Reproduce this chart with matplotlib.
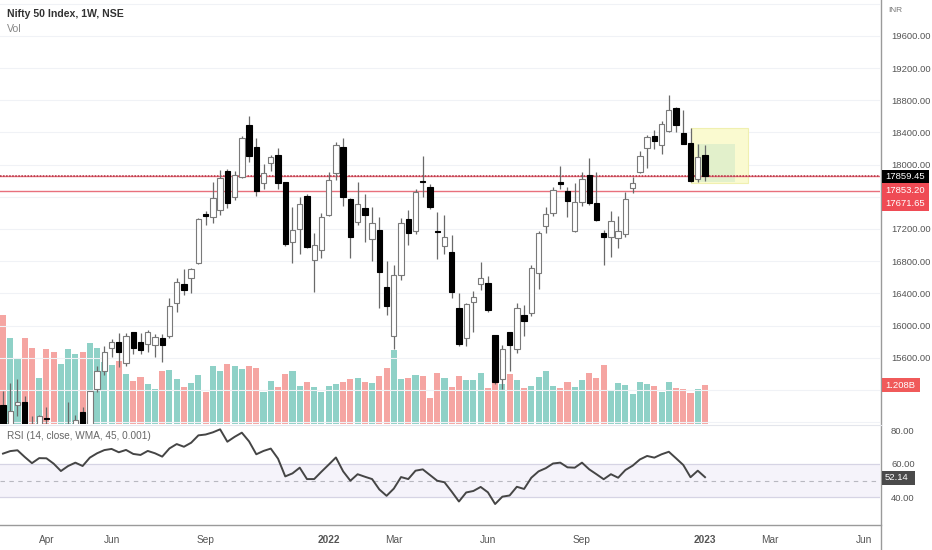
import matplotlib
matplotlib.use('Agg')
import matplotlib.pyplot as plt
from matplotlib.patches import Rectangle
from matplotlib.lines import Line2D

plt.rcParams['font.family'] = ['Liberation Sans', 'DejaVu Sans']

# weekly candles, Feb 22 2021 .. Jan 2 2023 (index 0..97)
opens = [15010, 14700, 15010, 15050, 14740, 14630, 14850, 14640, 14300, 14450,
         14480, 14925, 14760, 15210, 15435, 15723, 15789, 15529, 15916, 15792,
         15772, 15752, 15847, 15867, 16280, 16516, 16593, 16779, 17382, 17345,
         17435, 17918, 17600, 17847, 18488, 18219, 17773, 18021, 18125, 17786,
         17043, 17196, 17612, 16816, 16940, 17373, 17897, 18219, 17572, 17290,
         17458, 17073, 17188, 16473, 15867, 16631, 17320, 17175, 17795, 17724,
         17175, 16994, 16912, 16218, 15846, 16288, 16519, 16530, 15879, 15339,
         15921, 15710, 16127, 16157, 16659, 17237, 17394, 17778, 17674, 17179,
         17538, 17868, 17526, 17147, 17097, 17085, 17134, 17711, 17902, 18201,
         18357, 18242, 18419, 18709, 18392, 18273, 17816, 18116]
highs = [15180, 15290, 15340, 15120, 14880, 14890, 14985, 14700, 14670, 15045,
         14890, 14985, 15190, 15495, 15740, 15838, 15912, 15912, 15920, 15912,
         15950, 15900, 15900, 16346, 16593, 16705, 16720, 17340, 17423, 17785,
         17930, 17943, 17918, 18350, 18599, 18327, 18005, 18116, 18203, 17790,
         17476, 17602, 17630, 17146, 17394, 17909, 18283, 18335, 17590, 17786,
         17630, 17476, 17345, 16804, 16754, 17332, 17435, 17700, 18104, 17757,
         17406, 17373, 17126, 16404, 16280, 16424, 16795, 16610, 15879, 15752,
         15925, 16280, 16259, 16754, 17170, 17476, 17720, 17982, 17724, 17773,
         17909, 18083, 17909, 17188, 17427, 17361, 17662, 17847, 18166, 18370,
         18426, 18540, 18871, 18720, 18675, 18461, 18252, 18248]
lows = [14470, 14640, 14870, 14350, 14350, 14590, 14460, 14150, 14150, 14420,
        14420, 14590, 14700, 15170, 15390, 15603, 15479, 15500, 15640, 15640,
        15665, 15603, 15541, 15851, 16164, 16383, 16408, 16765, 17250, 17274,
        17373, 17460, 17559, 17839, 18033, 17608, 17695, 17918, 17695, 16989,
        16783, 16890, 16960, 16411, 16841, 17360, 17807, 17485, 16837, 17250,
        17043, 16808, 16218, 16135, 15702, 16569, 17002, 17140, 17600, 17443,
        16825, 16887, 16342, 15743, 15740, 15916, 16445, 16164, 15269, 15207,
        15429, 15661, 15867, 16123, 16453, 17154, 17360, 17700, 17345, 17160,
        17490, 17497, 17299, 16754, 16857, 16961, 17100, 17642, 17895, 17960,
        18199, 18129, 18400, 18407, 18252, 17786, 17786, 17795]
closes = [14530, 14940, 15050, 14740, 14510, 14870, 14835, 14620, 14340, 14630,
          14820, 14680, 15180, 15435, 15673, 15792, 15677, 15867, 15723, 15690,
          15921, 15854, 15764, 16247, 16535, 16445, 16705, 17324, 17361, 17584,
          17835, 17526, 17868, 18330, 18104, 17671.65, 17900, 18091, 17766, 17014,
          17188, 17506, 16981, 17002, 17345, 17807, 18248, 17600, 17097, 17509,
          17373, 17270, 16660, 16247, 16622, 17278, 17147, 17662, 17786, 17469,
          17167, 17097, 16412, 15776, 16271, 16350, 16590, 16199, 15302, 15702,
          15752, 16218, 16052, 16721, 17154, 17382, 17683, 17753, 17547, 17530,
          17819, 17518, 17311, 17097, 17303, 17175, 17571, 17773, 18104, 18345,
          18290, 18502, 18684, 18490, 18252, 17798, 18096, 17859.45]

# volume in billions
volumes = [3.38, 2.66, 2.04, 2.66, 2.35, 1.42, 2.32, 2.23, 1.86, 2.32,
           2.17, 2.23, 2.51, 2.35, 1.92, 1.83, 1.95, 1.55, 1.33, 1.46,
           1.24, 1.08, 1.64, 1.67, 1.39, 1.15, 1.27, 1.52, 0.99, 1.80,
           1.64, 1.86, 1.80, 1.70, 1.80, 1.73, 0.99, 1.33, 1.15, 1.55,
           1.64, 1.18, 1.30, 1.15, 0.99, 1.18, 1.24, 1.30, 1.39, 1.42,
           1.30, 1.27, 1.49, 1.73, 2.29, 1.39, 1.42, 1.52, 1.49, 0.81,
           1.58, 1.42, 1.15, 1.49, 1.36, 1.36, 1.58, 1.11, 1.27, 1.24,
           1.55, 1.36, 1.11, 1.18, 1.46, 1.64, 1.18, 1.11, 1.30, 1.15,
           1.36, 1.58, 1.42, 1.83, 1.02, 1.27, 1.21, 0.93, 1.30, 1.24,
           1.18, 0.99, 1.30, 1.11, 1.08, 0.96, 1.08, 1.208]

rsi = [66.2, 67.7, 68.2, 64.2, 60.5, 63.5, 63.4, 60.2, 55.8, 58.8,
       60.8, 58.8, 63.8, 66.4, 68.3, 69.0, 67.0, 68.4, 66.0, 65.4,
       67.8, 66.4, 64.4, 69.3, 71.9, 70.3, 72.7, 77.1, 77.6, 78.9,
       80.7, 73.3, 76.2, 78.7, 73.5, 65.8, 67.8, 69.2, 63.2, 52.6,
       54.4, 57.8, 51.0, 51.0, 55.4, 59.6, 63.9, 55.6, 50.0, 53.9,
       52.4, 51.0, 44.8, 41.0, 45.3, 52.2, 51.0, 56.0, 56.8, 53.4,
       50.0, 49.1, 43.5, 37.6, 43.0, 43.9, 46.3, 43.1, 36.1, 40.5,
       41.2, 46.4, 45.1, 51.8, 55.6, 57.5, 60.3, 60.8, 58.0, 57.8,
       60.8, 56.8, 53.9, 50.9, 53.9, 51.8, 56.4, 59.0, 62.7, 64.8,
       63.8, 65.8, 67.3, 63.4, 59.4, 52.1, 56.0, 52.14]

time_tick_pos = [6, 15, 28, 45, 54, 67, 80, 97, 106, 119]
time_tick_labels = ['Apr', 'Jun', 'Sep', '2022', 'Mar', 'Jun', 'Sep', '2023', 'Mar', 'Jun']
# 15200 and 17600 sit under the value tags
price_ticks = [15600, 16000, 16400, 16800, 17200, 18000, 18400, 18800, 19200, 19600]
grid_levels = list(range(14800, 20400, 400))
rsi_ticks = [40, 60, 80]

last_close = 17859.45
hlines = [17853.20, 17671.65]
# drawn boxes: [x0, x1, p_low, p_high]
yellow_box = [95.0, 103.0, 17773, 18459]
green_box = [95.9, 101.1, 17786, 18262]

W, H = 932, 550
def fx(px):
    return px / W
def fy(py):
    return 1 - py / H

fig = plt.figure(figsize=(9.32, 5.5), dpi=100)
fig.patch.set_facecolor('white')

xl = (-0.4145, 121.18)

vax = fig.add_axes([0, fy(424), fx(880), 424 / H])
ax = fig.add_axes([0, fy(424), fx(880), 424 / H], sharex=vax)
rax = fig.add_axes([0, fy(525), fx(880), 100 / H], sharex=vax)
vax.set_zorder(1)
ax.set_zorder(2)
ax.patch.set_visible(False)

idx = list(range(len(closes)))

# volume
vcols = ['#8fd1c7' if c >= o else '#f5a5a2' for o, c in zip(opens, closes)]
vax.bar(idx, volumes, width=0.84, color=vcols, linewidth=0)
vax.set_ylim(0, 13.13)
vax.axis('off')

# price pane
ax.set_xlim(*xl)
ax.set_ylim(14776, 20046)
for p in grid_levels:
    ax.axhline(p, color='#f0f2f6', lw=0.8, zorder=0)

ax.add_patch(Rectangle((yellow_box[0], yellow_box[2]), yellow_box[1] - yellow_box[0],
                       yellow_box[3] - yellow_box[2], fc='#fafad0', ec='#f0f0b0', lw=0.8, zorder=1))
ax.add_patch(Rectangle((green_box[0], green_box[2]), green_box[1] - green_box[0],
                       green_box[3] - green_box[2], fc='#e2f0cb', ec='none', zorder=1))

ax.axhline(hlines[1], color='#e8707c', lw=1.0, zorder=2)
ax.axhline(hlines[0], color='#e8707c', lw=1.0, zorder=2)
ax.axhline(last_close, color='#b03040', lw=1.1, ls=(0, (1, 1)), zorder=2)

ax.vlines(idx, lows, highs, color='#6a6a6a', lw=0.9, zorder=3)
bot = [min(o, c) for o, c in zip(opens, closes)]
hgt = [max(abs(c - o), 10) for o, c in zip(opens, closes)]
fcs = ['white' if c >= o else 'black' for o, c in zip(opens, closes)]
ecs = ['#7a7a7a' if c >= o else 'black' for o, c in zip(opens, closes)]
ax.bar(idx, hgt, bottom=bot, width=0.74, color=fcs, edgecolor=ecs, linewidth=0.8, zorder=4)

ax.yaxis.tick_right()
ax.set_yticks(price_ticks)
ax.set_yticklabels(['%.2f' % p for p in price_ticks])
ax.tick_params(axis='y', length=0, pad=8, labelsize=6.8, labelcolor='#555555')
ax.tick_params(axis='x', bottom=False, labelbottom=False)
for s in ax.spines.values():
    s.set_visible(False)

# rsi pane
rax.set_ylim(23.58, 83.28)
rax.axhspan(40, 60, color='#7e57c2', alpha=0.07, lw=0)
rax.axhline(60, color='#d6d4e4', lw=0.9)
rax.axhline(40, color='#d6d4e4', lw=0.9)
rax.axhline(50, color='#b8b8c0', lw=0.8, ls=(0, (4, 4)))
rax.plot(idx, rsi, color='#454545', lw=1.4)
rax.yaxis.tick_right()
rax.set_yticks(rsi_ticks)
rax.set_yticklabels(['%.2f' % r for r in rsi_ticks])
rax.tick_params(axis='y', length=0, pad=8, labelsize=6.8, labelcolor='#555555')
rax.set_xticks(time_tick_pos)
rax.set_xticklabels(time_tick_labels)
rax.tick_params(axis='x', length=0, pad=7, labelsize=7.3, labelcolor='#555555')
for lab in rax.get_xticklabels():
    if lab.get_text() in ('2022', '2023'):
        lab.set_fontweight('bold')
for s in rax.spines.values():
    s.set_visible(False)
rax.set_xlim(*xl)

# pane separators
fig.add_artist(Line2D([fx(881), fx(881)], [0, 1], color='#9a9a9a', lw=1.0, transform=fig.transFigure))
fig.add_artist(Line2D([0, fx(881)], [fy(525), fy(525)], color='#9a9a9a', lw=1.0, transform=fig.transFigure))
fig.add_artist(Line2D([0, fx(881)], [fy(424.5), fy(424.5)], color='#e4e6ec', lw=0.8, transform=fig.transFigure))

# labels
fig.text(fx(7), fy(14), 'Nifty 50 Index, 1W, NSE', fontsize=7.6, color='#333333', va='center', fontweight='bold')
fig.text(fx(7), fy(29), 'Vol', fontsize=7.6, color='#888888', va='center')
fig.text(fx(888), fy(11), 'INR', fontsize=6, color='#777777', va='center')
fig.text(fx(7), fy(436), 'RSI (14, close, WMA, 45, 0.001)', fontsize=7.2, color='#666666', va='center')

def tag(y0, y1, x1, fc, txt_list):
    fig.add_artist(Rectangle((fx(881.5), fy(y1)), fx(x1 - 881.5), (y1 - y0) / H,
                             fc=fc, ec='none', transform=fig.transFigure, zorder=5))
    for ty, t in txt_list:
        fig.text(fx(885), fy(ty), t, fontsize=6.8, color='white', va='center', zorder=6)

tag(170, 183, 929, 'black', [(176.5, '%.2f' % last_close)])
tag(183.5, 211, 929, '#ef4b55', [(190.5, '%.2f' % hlines[0]), (204, '%.2f' % hlines[1])])
tag(378, 392, 920, '#f05a5a', [(385, '%.3fB' % volumes[-1])])
tag(470.5, 484.5, 915, '#4a4a4a', [(477.5, '%.2f' % rsi[-1])])

fig.savefig('out.png', dpi=100, facecolor='white')
